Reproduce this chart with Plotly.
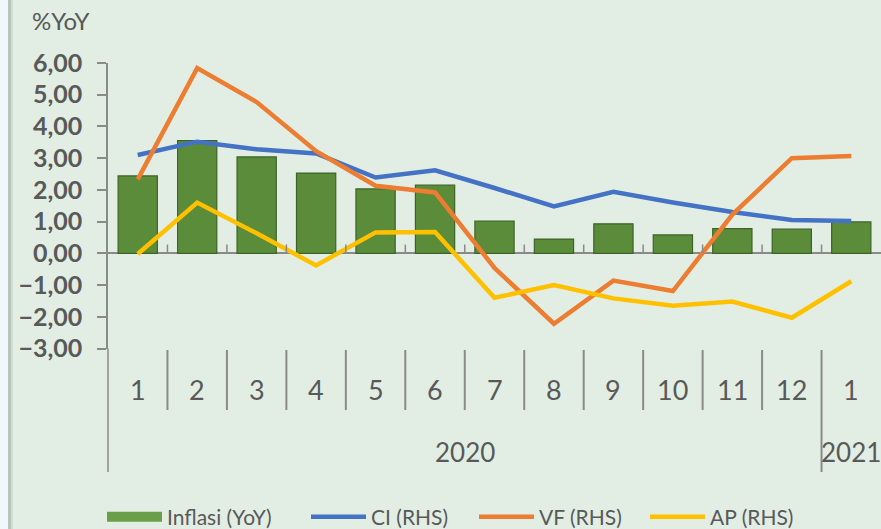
import plotly.graph_objects as go

# Monthly data, Jan 2020 - Jan 2021
months = ["1", "2", "3", "4", "5", "6", "7", "8", "9", "10", "11", "12", "1"]
years = ["2020", "2021"]
year_counts = [12, 1]
inflasi = [2.44, 3.55, 3.04, 2.53, 2.03, 2.15, 1.02, 0.45, 0.93, 0.58, 0.78, 0.76, 0.99]
ci = [3.10, 3.52, 3.28, 3.15, 2.39, 2.62, 2.06, 1.48, 1.94, 1.60, 1.30, 1.05, 1.02]
vf = [2.33, 5.84, 4.77, 3.22, 2.13, 1.92, -0.46, -2.22, -0.86, -1.19, 1.22, 3.00, 3.07]
ap = [-0.02, 1.60, 0.63, -0.38, 0.66, 0.67, -1.40, -1.00, -1.42, -1.65, -1.52, -2.03, -0.88]
y_ticks = [6, 5, 4, 3, 2, 1, 0, -1, -2, -3]

W, H = 881, 529
BG = "#E2EEE4"
GRID = "#8A8A8A"
TXT = "#595959"
FONT = "Lato"

pos = list(range(1, len(months) + 1))

# plot-area geometry (pixels)
left_px, top_px, bottom_px = 108, 63, 348.5
x_dom = [left_px / W, 1.0]
y_dom = [1 - bottom_px / H, 1 - top_px / H]


def py(px):
    return 1 - px / H


fig = go.Figure()

fig.add_trace(go.Bar(
    x=pos, y=inflasi, name="Inflasi (YoY)", width=0.66,
    marker=dict(color="#5A8C3A", line=dict(color="#3E6326", width=1.2)),
    showlegend=False,
))
# legend swatch for the bars
fig.add_trace(go.Scatter(
    x=[None], y=[None], mode="lines", name="Inflasi (YoY)",
    line=dict(color="#6B9E48", width=12), legend="legend",
))
series = [("CI (RHS)", ci, "#4472C4", "legend2"),
          ("VF (RHS)", vf, "#ED7D31", "legend3"),
          ("AP (RHS)", ap, "#FFC000", "legend4")]
for name, vals, col, lg in series:
    fig.add_trace(go.Scatter(
        x=pos, y=vals, name=name, mode="lines",
        line=dict(color=col, width=4.5), legend=lg,
    ))

shapes = []
# left background strip
shapes.append(dict(type="rect", xref="paper", yref="paper", x0=0, x1=8 / W, y0=0, y1=1,
                   fillcolor="#F1F8FB", line=dict(width=0), layer="below"))
shapes.append(dict(type="line", xref="paper", yref="paper", x0=9.5 / W, x1=9.5 / W, y0=0, y1=1,
                   line=dict(color="#B7C6B9", width=3), layer="below"))
shapes.append(dict(type="line", xref="paper", yref="paper", x0=12 / W, x1=12 / W, y0=0, y1=1,
                   line=dict(color="#D0DDD2", width=2), layer="below"))

# vertical axis line continues through the category rows
shapes.append(dict(type="line", xref="paper", yref="paper", x0=x_dom[0], x1=x_dom[0],
                   y0=py(472), y1=y_dom[0], line=dict(color=GRID, width=1.5)))

# category separators
boundaries = [p + 0.5 for p in pos[:-1]]
year_breaks = set()
acc = 0
for c in year_counts[:-1]:
    acc += c
    year_breaks.add(acc + 0.5)
for b in boundaries:
    # small ticks on the zero line
    shapes.append(dict(type="line", xref="x", yref="y", x0=b, x1=b, y0=0, y1=0.28,
                       line=dict(color=GRID, width=1.5)))
    y_low = py(472) if b in year_breaks else py(410)
    shapes.append(dict(type="line", xref="x", yref="paper", x0=b, x1=b,
                       y0=y_low, y1=py(350), line=dict(color=GRID, width=2)))

annotations = []
for p, m in zip(pos, months):
    annotations.append(dict(x=p, y=py(389), xref="x", yref="paper", text=m,
                            xanchor="center", yanchor="middle",
                            showarrow=False, font=dict(family=FONT, size=27, color=TXT)))
start = 1
for yr, c in zip(years, year_counts):
    centre = start + (c - 1) / 2
    annotations.append(dict(x=centre, y=py(452), xref="x", yref="paper", text=yr,
                            xanchor="center", yanchor="middle",
                            showarrow=False, font=dict(family=FONT, size=26, color=TXT)))
    start += c
annotations.append(dict(x=61 / W, y=py(20), xref="paper", yref="paper", text="%YoY",
                        xanchor="center", yanchor="middle",
                        showarrow=False, font=dict(family=FONT, size=24, color=TXT)))


def legend_at(x_px):
    return dict(orientation="h", xref="container", yref="container",
                x=x_px / W, xanchor="left", y=py(517), yanchor="middle",
                itemwidth=55, font=dict(family=FONT, size=21, color=TXT),
                bgcolor="rgba(0,0,0,0)")


fig.update_layout(
    width=W, height=H,
    margin=dict(l=0, r=0, t=0, b=0, autoexpand=False),
    paper_bgcolor=BG, plot_bgcolor=BG,
    separators=",.",
    barmode="overlay",
    font=dict(family=FONT, color=TXT),
    xaxis=dict(domain=x_dom, range=[0.5, len(pos) + 0.5], showgrid=False, zeroline=False,
               showticklabels=False, ticks="", showline=False, fixedrange=True,
               automargin=False),
    yaxis=dict(domain=y_dom, range=[-3, 6], tickvals=y_ticks, tickformat=".2f",
               showgrid=False, zeroline=True, zerolinecolor=GRID, zerolinewidth=1.5,
               showline=True, linecolor=GRID, linewidth=1.5,
               ticks="outside", ticklen=9, tickwidth=1.5, tickcolor=GRID,
               ticklabelstandoff=10, automargin=False,
               tickfont=dict(family=FONT, size=25, color=TXT, weight="bold")),
    legend=legend_at(102),
    legend2=legend_at(306),
    legend3=legend_at(474),
    legend4=legend_at(645),
    shapes=shapes,
    annotations=annotations,
)

fig.write_html("out.html")
